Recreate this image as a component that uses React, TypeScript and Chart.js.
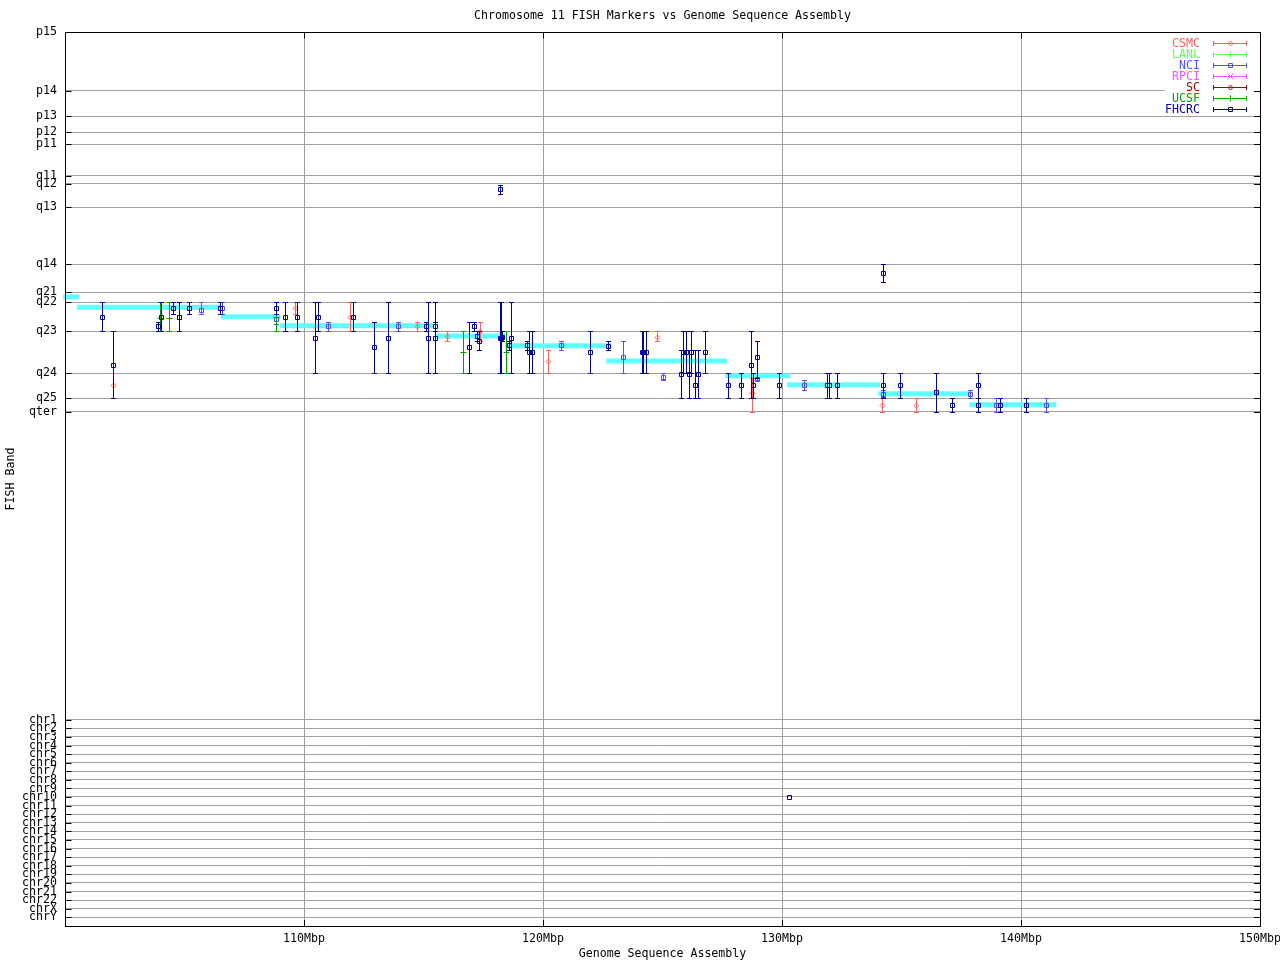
import React, { useEffect, useRef } from 'react';
import { Chart, registerables } from 'chart.js';

Chart.register(...registerables);

const FONT = 'DejaVu Sans Mono';
const FONT_SIZE = 11.6;
const GRID = '#a0a0a0';

const TITLE = 'Chromosome 11 FISH Markers vs Genome Sequence Assembly';
const X_TITLE = 'Genome Sequence Assembly';
const Y_TITLE = 'FISH Band';

// x axis (Mbp)
const X_MIN = 100;
const X_MAX = 150;
const X_TICKS = [110, 120, 130, 140, 150];

// y axis: band positions (top = 0)
const Y_MAX = 318.25;
const BAND_LABELS = [
  'p15', 'p14', 'p13', 'p12', 'p11', 'q11', 'q12', 'q13', 'q14', 'q21', 'q22', 'q23', 'q24', 'q25', 'qter',
  'chr1', 'chr2', 'chr3', 'chr4', 'chr5', 'chr6', 'chr7', 'chr8', 'chr9', 'chr10', 'chr11', 'chr12',
  'chr13', 'chr14', 'chr15', 'chr16', 'chr17', 'chr18', 'chr19', 'chr20', 'chr21', 'chr22', 'chrX', 'chrY',
];
const BAND_POS = [
  0, 21.0, 30.0, 35.7, 40.0, 51.2, 54.1, 62.4, 82.6, 92.6, 96.2, 106.5, 121.5, 130.4, 135.1,
  244.8, 247.9, 250.9, 254.0, 257.1, 260.1, 263.2, 266.2, 269.3, 272.3, 275.4, 278.5,
  281.5, 284.6, 287.6, 290.7, 293.8, 296.8, 299.9, 302.9, 306.0, 309.0, 312.1, 315.2,
];

// sequence assembly band segments: start Mbp, end Mbp, band position
const SEG_START = [99.92, 100.5, 106.53, 109.0, 115.53, 118.42, 122.65, 127.63, 130.22, 134.03, 137.84];
const SEG_END = [100.59, 106.57, 109.0, 115.4, 118.42, 122.85, 127.71, 130.35, 134.11, 137.92, 141.48];
const SEG_BAND = [94.3, 98.0, 101.4, 104.6, 108.2, 111.7, 117.1, 122.4, 125.6, 128.8, 132.7];

// markers: [Mbp, band position, band low, band high]
type Row = [number, number, number, number];

const CSMC: Row[] = [
  [102.02, 125.7, 121.5, 130.4],
  [109.64, 98.3, 96.2, 100.5],
  [111.93, 101.5, 96.2, 106.5],
  [114.71, 104.6, 103.1, 106.5],
  [116.0, 108.2, 106.5, 110.1],
  [117.38, 106.6, 103.1, 110.1],
  [120.23, 117.1, 113.2, 121.5],
  [124.77, 108.4, 106.5, 110.1],
  [128.74, 128.5, 123.2, 135.1],
  [134.18, 132.7, 130.4, 135.1],
  [135.59, 132.7, 130.4, 135.1],
];
const LANL: Row[] = [];
const NCI: Row[] = [
  [105.71, 99.1, 96.2, 100.5],
  [106.58, 98.3, 96.2, 100.5],
  [108.82, 102.2, 100.5, 103.9],
  [111.02, 104.5, 103.1, 106.5],
  [113.95, 104.5, 103.1, 106.5],
  [120.76, 111.6, 110.1, 113.2],
  [123.34, 115.8, 110.1, 121.5],
  [125.04, 122.7, 121.5, 123.8],
  [128.95, 123.6, 123.2, 123.9],
  [130.9, 125.7, 123.8, 127.4],
  [134.21, 128.8, 127.4, 129.8],
  [137.85, 128.8, 127.4, 130.4],
  [138.96, 132.7, 130.4, 135.1],
  [141.05, 132.7, 130.4, 135.1],
];
const RPCI: Row[] = [];
const SC: Row[] = [];
const UCSF: Row[] = [
  [103.96, 101.9, 96.2, 106.5],
  [104.37, 101.7, 96.2, 106.5],
  [108.82, 101.5, 96.2, 106.5],
  [116.67, 114.0, 106.5, 121.5],
  [118.46, 114.0, 106.5, 121.5],
];
const FHCRC: Row[] = [
  [101.56, 101.5, 96.2, 106.5],
  [102.02, 118.6, 106.5, 130.4],
  [103.91, 104.5, 103.1, 106.5],
  [104.03, 101.5, 96.2, 106.5],
  [104.53, 98.3, 96.2, 100.5],
  [104.75, 101.5, 96.2, 106.5],
  [104.79, 101.5, 96.2, 106.5],
  [105.2, 98.3, 96.2, 100.5],
  [106.47, 98.3, 96.2, 100.5],
  [108.83, 98.3, 96.2, 100.5],
  [109.22, 101.5, 96.2, 106.5],
  [109.72, 101.5, 96.2, 106.5],
  [110.48, 109.0, 96.2, 121.5],
  [110.6, 101.5, 96.2, 106.5],
  [112.03, 101.5, 96.2, 106.5],
  [112.93, 112.2, 103.1, 121.5],
  [113.53, 109.0, 96.2, 121.5],
  [115.12, 104.5, 103.1, 106.5],
  [115.17, 109.0, 96.2, 121.5],
  [115.49, 104.5, 103.1, 106.5],
  [115.47, 109.0, 96.2, 121.5],
  [116.92, 112.2, 103.1, 121.5],
  [117.12, 104.5, 103.1, 106.5],
  [117.22, 108.2, 106.5, 110.1],
  [117.32, 110.1, 106.5, 113.2],
  [118.22, 108.9, 96.2, 121.5],
  [118.26, 109.0, 96.2, 121.5],
  [118.3, 108.6, 106.5, 110.1],
  [118.57, 111.6, 110.1, 113.2],
  [118.68, 109.0, 96.2, 121.5],
  [119.33, 111.6, 110.1, 113.2],
  [119.42, 114.0, 106.5, 121.5],
  [119.54, 114.0, 106.5, 121.5],
  [121.95, 114.0, 106.5, 121.5],
  [122.7, 111.7, 110.1, 113.2],
  [124.14, 114.0, 106.5, 121.5],
  [124.2, 114.0, 106.5, 121.5],
  [124.32, 114.0, 106.5, 121.5],
  [125.76, 121.8, 113.2, 130.4],
  [125.86, 114.0, 106.5, 121.5],
  [126.0, 114.0, 106.5, 121.5],
  [126.09, 121.8, 113.2, 130.4],
  [126.19, 114.0, 106.5, 121.5],
  [126.38, 125.7, 113.2, 130.4],
  [126.47, 121.8, 113.2, 130.4],
  [126.76, 114.0, 106.5, 121.5],
  [127.72, 125.7, 121.5, 130.4],
  [128.27, 125.7, 121.5, 130.4],
  [128.69, 118.6, 106.5, 130.4],
  [128.77, 125.7, 121.5, 130.4],
  [128.94, 115.8, 110.1, 123.2],
  [129.86, 125.7, 121.5, 130.4],
  [131.88, 125.7, 121.5, 130.4],
  [131.98, 125.7, 121.5, 130.4],
  [132.29, 125.7, 121.5, 130.4],
  [134.21, 125.7, 121.5, 130.4],
  [134.21, 85.9, 82.7, 89.1],
  [134.92, 125.7, 121.5, 130.4],
  [136.43, 128.2, 121.5, 135.1],
  [137.1, 132.7, 130.4, 135.1],
  [138.19, 125.7, 121.5, 130.4],
  [138.19, 132.7, 130.4, 135.1],
  [139.11, 132.7, 130.4, 135.1],
  [140.2, 132.7, 130.4, 135.1],
  [118.22, 56.0, 54.4, 57.8],
  [130.31, 272.3, 272.3, 272.3],
];

type Series = { name: string; color: string; style: string; radius: number; rows: Row[] };
const SERIES: Series[] = [
  { name: 'CSMC', color: '#ff6060', style: 'rectRot', radius: 2.5, rows: CSMC },
  { name: 'LANL', color: '#60ff60', style: 'cross', radius: 3, rows: LANL },
  { name: 'NCI', color: '#5050ff', style: 'rect', radius: 2.83, rows: NCI },
  { name: 'RPCI', color: '#ff50ff', style: 'crossRot', radius: 3, rows: RPCI },
  { name: 'SC', color: '#a00000', style: 'rectRot', radius: 2.5, rows: SC },
  { name: 'UCSF', color: '#00a000', style: 'cross', radius: 3, rows: UCSF },
  { name: 'FHCRC', color: '#0000a0', style: 'rect', radius: 2.83, rows: FHCRC },
];
const SEG_COLOR = '#60ffff';

function drawMarker(ctx: CanvasRenderingContext2D, style: string, cx: number, cy: number, r: number) {
  ctx.beginPath();
  if (style === 'rect') {
    ctx.rect(cx - 2, cy - 2, 4, 4);
  } else if (style === 'rectRot') {
    ctx.moveTo(cx - r, cy);
    ctx.lineTo(cx, cy - r);
    ctx.lineTo(cx + r, cy);
    ctx.lineTo(cx, cy + r);
    ctx.closePath();
  } else if (style === 'cross') {
    ctx.moveTo(cx - r, cy);
    ctx.lineTo(cx + r, cy);
    ctx.moveTo(cx, cy - r);
    ctx.lineTo(cx, cy + r);
  } else {
    ctx.moveTo(cx - r, cy - r);
    ctx.lineTo(cx + r, cy + r);
    ctx.moveTo(cx + r, cy - r);
    ctx.lineTo(cx - r, cy + r);
  }
  ctx.stroke();
}

const gnuplotPlugin = {
  id: 'gnuplotLook',
  beforeDraw(chart: any) {
    const ctx = chart.ctx;
    ctx.save();
    ctx.fillStyle = '#ffffff';
    ctx.fillRect(0, 0, chart.width, chart.height);
    ctx.restore();
  },
  afterDatasetsUpdate(chart: any) {
    chart.data.datasets.forEach((ds: any, i: number) => {
      if (!ds.isSeries) return;
      const meta = chart.getDatasetMeta(i);
      meta.data.forEach((el: any) => {
        el.x = Math.round(el.x) + 0.5;
        el.y = Math.round(el.y) + 0.5;
      });
    });
  },
  beforeDatasetDraw(chart: any, args: any) {
    const ds = chart.data.datasets[args.index];
    if (!ds.isSeries) return;
    const ctx = chart.ctx;
    const ys = chart.scales.y;
    const meta = chart.getDatasetMeta(args.index);
    ctx.save();
    ctx.strokeStyle = ds.borderColor;
    ctx.lineWidth = 1;
    ctx.beginPath();
    ds.data.forEach((p: any, j: number) => {
      if (p.lo === p.hi) return;
      const el = meta.data[j];
      const px = el.x;
      const y1 = Math.round(ys.getPixelForValue(p.lo)) + 0.5;
      const y2 = Math.round(ys.getPixelForValue(p.hi)) + 0.5;
      ctx.moveTo(px, y1);
      ctx.lineTo(px, y2);
      ctx.moveTo(px - 2.5, y1);
      ctx.lineTo(px + 2.5, y1);
      ctx.moveTo(px - 2.5, y2);
      ctx.lineTo(px + 2.5, y2);
    });
    ctx.stroke();
    ctx.restore();
  },
  afterDraw(chart: any) {
    const ctx: CanvasRenderingContext2D = chart.ctx;
    const a = chart.chartArea;
    const xs = chart.scales.x;
    const ys = chart.scales.y;
    ctx.save();

    // legend background
    ctx.fillStyle = '#ffffff';
    ctx.fillRect(1165, a.top + 1, a.right - 1165, 82);

    // border
    ctx.strokeStyle = '#000000';
    ctx.lineWidth = 1;
    ctx.strokeRect(a.left + 0.5, a.top + 0.5, a.right - a.left, a.bottom - a.top);

    // inward tick marks
    ctx.beginPath();
    BAND_POS.forEach((v) => {
      const py = Math.round(ys.getPixelForValue(v)) + 0.5;
      ctx.moveTo(a.left, py);
      ctx.lineTo(a.left + 6.5, py);
      ctx.moveTo(a.right - 6, py);
      ctx.lineTo(a.right + 1, py);
    });
    X_TICKS.forEach((v) => {
      const px = Math.round(xs.getPixelForValue(v)) + 0.5;
      ctx.moveTo(px, a.top);
      ctx.lineTo(px, a.top + 6.5);
      ctx.moveTo(px, a.bottom + 0.5);
      ctx.lineTo(px, a.bottom - 6);
    });
    ctx.stroke();

    // legend entries
    ctx.font = `${FONT_SIZE}px "${FONT}"`;
    ctx.textBaseline = 'middle';
    ctx.textAlign = 'right';
    SERIES.forEach((s, i) => {
      const y = Math.round(42.5 + i * 11) + 0.5;
      ctx.fillStyle = s.color;
      ctx.strokeStyle = s.color;
      ctx.fillText(s.name, 1200, y + 0.5);
      ctx.beginPath();
      ctx.moveTo(1213, y);
      ctx.lineTo(1247, y);
      ctx.moveTo(1213.5, y - 2.5);
      ctx.lineTo(1213.5, y + 2.5);
      ctx.moveTo(1246.5, y - 2.5);
      ctx.lineTo(1246.5, y + 2.5);
      ctx.stroke();
      drawMarker(ctx, s.style, 1230.5, y, s.radius);
    });

    // titles
    ctx.fillStyle = '#000000';
    ctx.textAlign = 'center';
    ctx.fillText(TITLE, (a.left + a.right) / 2, 15.5);
    ctx.fillText(X_TITLE, (a.left + a.right) / 2, 953.5);
    ctx.translate(10.5, (a.top + a.bottom) / 2);
    ctx.rotate(-Math.PI / 2);
    ctx.fillText(Y_TITLE, 0, 0);
    ctx.restore();
  },
};

export default function App() {
  const ref = useRef<HTMLCanvasElement | null>(null);

  useEffect(() => {
    if (!ref.current) return;

    const segDatasets = SEG_START.map((s, i) => ({
      type: 'line' as const,
      data: [
        { x: s, y: SEG_BAND[i] },
        { x: SEG_END[i], y: SEG_BAND[i] },
      ],
      showLine: true,
      borderColor: SEG_COLOR,
      backgroundColor: SEG_COLOR,
      borderWidth: 5,
      borderCapStyle: 'butt' as const,
      pointRadius: 0,
      fill: false,
      clip: false as any,
      order: 100,
    }));

    const seriesDatasets = SERIES.map((s, i) => ({
      label: s.name,
      isSeries: true,
      data: s.rows.map((r) => ({ x: r[0], y: r[1], lo: r[2], hi: r[3] })),
      borderColor: s.color,
      backgroundColor: 'rgba(0,0,0,0)',
      borderWidth: 1,
      pointStyle: s.style,
      pointRadius: s.radius,
      pointHoverRadius: s.radius,
      showLine: false,
      order: SERIES.length - i,
    }));

    const tickFont = { family: FONT, size: FONT_SIZE };

    const chart = new Chart(ref.current, {
      type: 'scatter',
      data: { datasets: [...segDatasets, ...seriesDatasets] as any },
      options: {
        animation: false,
        responsive: false,
        devicePixelRatio: 1,
        events: [],
        layout: { padding: { top: 32, right: 20, bottom: 0, left: 0 } },
        plugins: {
          legend: { display: false },
          tooltip: { enabled: false },
          title: { display: false },
        },
        scales: {
          x: {
            type: 'linear',
            position: 'bottom',
            min: X_MIN,
            max: X_MAX,
            afterBuildTicks: (s: any) => {
              s.ticks = X_TICKS.map((v) => ({ value: v }));
            },
            afterFit: (s: any) => {
              s.height = 34;
              s.paddingLeft = 0;
              s.paddingRight = 0;
            },
            ticks: {
              autoSkip: false,
              maxRotation: 0,
              minRotation: 0,
              padding: 6,
              color: '#000000',
              font: tickFont,
              callback: (v: any) => `${v}Mbp`,
            },
            grid: { color: GRID, lineWidth: 1, drawTicks: false },
            border: { display: false },
          },
          y: {
            type: 'linear',
            reverse: true,
            min: 0,
            max: Y_MAX,
            afterBuildTicks: (s: any) => {
              s.ticks = BAND_POS.map((v) => ({ value: v }));
            },
            afterFit: (s: any) => {
              s.width = 65;
              s.paddingTop = 0;
              s.paddingBottom = 0;
            },
            ticks: {
              autoSkip: false,
              padding: 8,
              color: '#000000',
              font: tickFont,
              callback: (_v: any, i: number) => BAND_LABELS[i],
            },
            grid: { color: GRID, lineWidth: 1, drawTicks: false },
            border: { display: false },
          },
        },
      } as any,
      plugins: [gnuplotPlugin],
    });

    return () => chart.destroy();
  }, []);

  return (
    <div style={{ position: 'absolute', left: 0, top: 0, width: 1280, height: 960, background: '#fff' }}>
      <canvas ref={ref} width={1280} height={960} style={{ display: 'block', width: 1280, height: 960 }} />
    </div>
  );
}
